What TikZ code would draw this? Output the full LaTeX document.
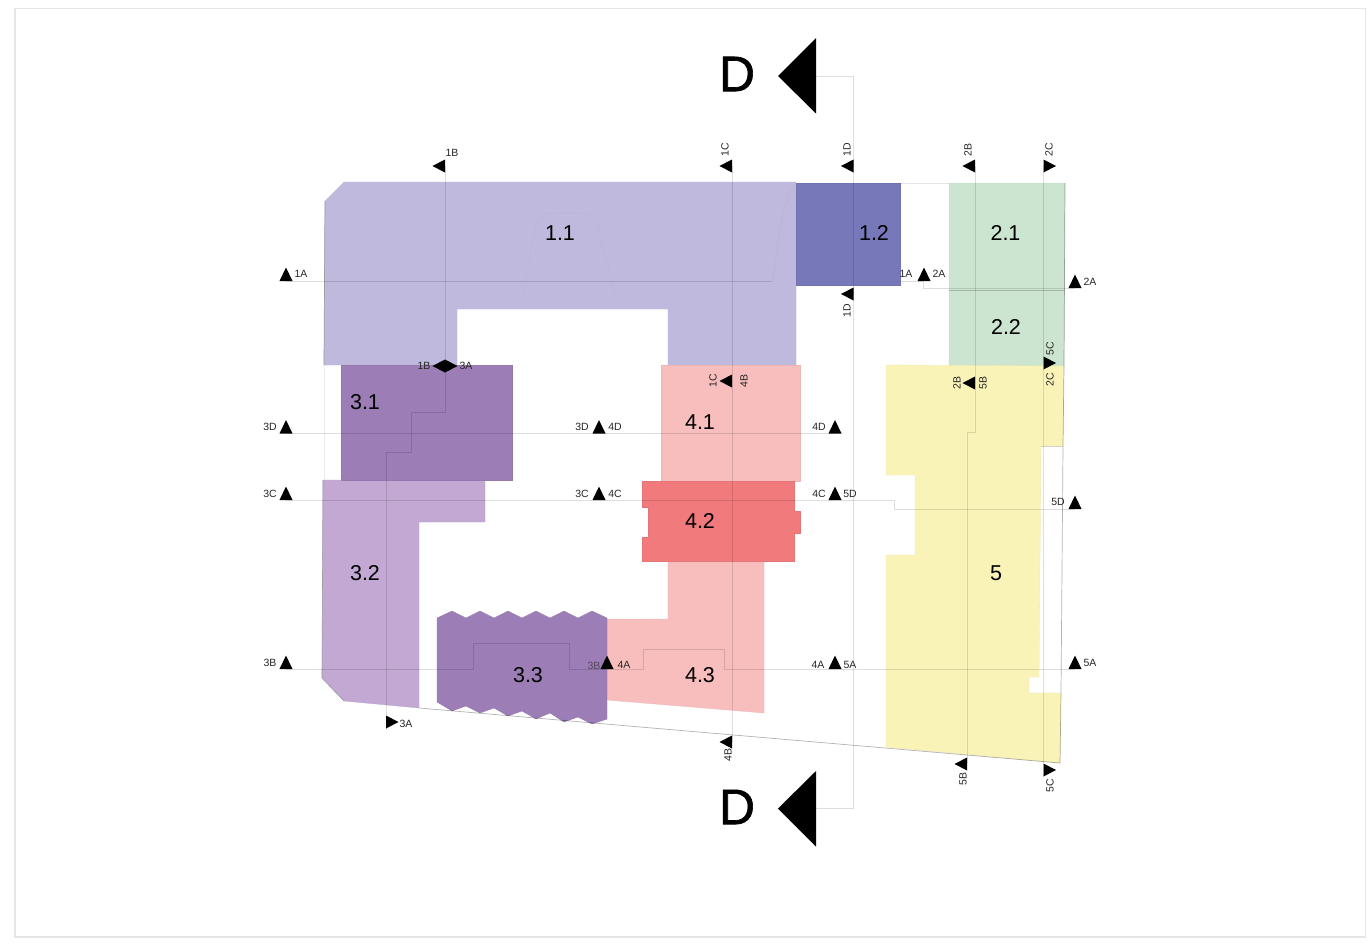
\documentclass[tikz,border=0pt]{standalone}
\usepackage{fontspec}
\setmainfont{Liberation Sans}
\newfontface\dface[FakeBold=1.2]{Liberation Sans}
\definecolor{cOneOne}{HTML}{BFBADD}
\definecolor{cOneTwo}{HTML}{7678B9}
\definecolor{cGreen}{HTML}{CCE5D0}
\definecolor{cDeep}{HTML}{9C7DB6}
\definecolor{cLight}{HTML}{C2A8D2}
\definecolor{cPink}{HTML}{F7BEBD}
\definecolor{cRed}{HTML}{F07A7C}
\definecolor{cYellow}{HTML}{FAF3B8}
\definecolor{cFrame}{HTML}{E6E6E6}
\newcommand{\TriUp}[2]{\fill[black] (#1-6.5,#2) -- (#1+6.5,#2) -- (#1,#2-13.5) -- cycle;}
\newcommand{\TriLeft}[2]{\fill[black] (#1,#2-6.5) -- (#1,#2+6.5) -- (#1-12.5,#2) -- cycle;}
\newcommand{\TriRight}[2]{\fill[black] (#1,#2-6.5) -- (#1,#2+6.5) -- (#1+12.5,#2) -- cycle;}
\tikzset{
  x=1pt,y=-1pt,
  zone/.style={line width=0.3pt,draw=#1!96!black,fill=#1},
  cutline/.style={draw=black,draw opacity=.13,line width=0.9pt},
  siteline/.style={draw=black,draw opacity=.3,line width=0.7pt},
  ghost/.style={draw=#1,line width=0.6pt},
  tag/.style={font=\fontsize{10.5}{12}\selectfont,inner sep=0pt,text=black!85},
  vtag/.style={tag,rotate=90},
  area/.style={font=\fontsize{21.5}{24}\selectfont,inner sep=0pt},
  bigtag/.style={font=\dface\fontsize{50}{54}\selectfont,inner sep=0pt}
}
\begin{document}
\begin{tikzpicture}
\useasboundingbox (0,0) rectangle (1368,945);
\fill[white] (0,0) rectangle (1368,945);
\draw[cFrame,line width=1.6pt] (15,8.5) rectangle (1365.5,937);

% zones
\path[zone=cOneOne] (325,201) -- (344,182) -- (796,182) -- (796,365) -- (668,365) -- (668,309) -- (457,309) -- (457,365) -- (324,365) -- cycle;
\draw[gray!75,line width=0.7pt] (324,365) -- (325,201);
\draw[gray!15,line width=0.6pt] (324,365) -- (324,480);
\path[zone=cGreen] (949,183) -- (1065,183) -- (1064,366) -- (949,366) -- cycle;
\path[zone=cOneTwo] (796,183) -- (900,183) -- (900,285) -- (796,285) -- cycle;
\path[zone=cLight] (323,480) -- (485,480) -- (485,522) -- (419,522) -- (419,708) -- (344,701) -- (322,678) -- cycle;
\draw[gray!75,line width=0.6pt] (323,480) -- (322,678) -- (344,701);
\path[zone=cDeep] (341,365) -- (512,365) -- (512,480) -- (341,480) -- cycle;
\path[zone=cPink] (661,365) -- (800,365) -- (800,481) -- (661,481) -- cycle;
\path[zone=cPink] (668,561) -- (764,561) -- (764,713) -- (607,700) -- (607,619) -- (668,619) -- cycle;
\path[zone=cRed] (642,481) -- (794,481) -- (794,511) -- (800,511) -- (800,533) -- (794,533) -- (794,561) -- (642,561) -- (642,537) -- (648,537) -- (648,507) -- (642,507) -- cycle;
\path[zone=cYellow] (886,365) -- (1064,366) -- (1063,446) -- (1041,446) -- (1039,677) -- (1029,677) -- (1029,693) -- (1061,693) -- (1060,763) -- (886,747) -- (886,555) -- (915,555) -- (915,475) -- (886,475) -- cycle;
\path[zone=cDeep] (437,618) -- (452,611) -- (466,618) -- (480,611) -- (494,618) -- (508,611) -- (522,618) -- (536,611) -- (550,618) -- (564,611) -- (578,618) -- (592,611) -- (607,618) -- (607,719) -- (592,724) -- (578,717) -- (564,722) -- (550,713) -- (536,719) -- (522,711) -- (508,716) -- (494,708) -- (480,713) -- (466,706) -- (452,711) -- (437,702) -- cycle;

% site outlines
\draw[siteline] (419,708) -- (1060,763) -- (1061,693) -- (1063,446) -- (1064,366);
\draw[draw=black,draw opacity=.15,line width=0.7pt] (1063,446) -- (1041,446);
\draw[draw=black,draw opacity=.1,line width=0.7pt] (900,183) -- (949,183);
\draw[draw=black,draw opacity=.2,line width=0.7pt] (949,290) -- (1065,290);
\draw[siteline] (1065,183) -- (1064,366);

% faint ground-plan traces
\draw[ghost=cOneOne!94!gray] (523,297) .. controls (528,270) and (532,240) .. (536,226) .. controls (540,214) and (546,213) .. (556,213) -- (578,213) .. controls (590,213) and (594,218) .. (598,228) .. controls (604,250) and (611,275) .. (615,297);
\draw[ghost=cOneOne!90!gray] (772,281) .. controls (778,262) and (778,205) .. (796,183);
\draw[ghost=cOneTwo!90!gray] (853,222) .. controls (862,216) and (885,216) .. (898,224);

% section lines
\coordinate (cutAw) at (286,281);
\coordinate (cutAe) at (772,281);
\draw[cutline] (cutAw) -- (cutAe);
\draw[cutline] (900,281) -- (923,281) -- (923,288) -- (1075,288);
\draw[cutline] (445,166) -- (445,412) -- (411,412) -- (411,452) -- (386,452) -- (386,729);
\draw[cutline] (732,166) -- (732,742);
\draw[cutline] (816,76) -- (853,76) -- (853,808) -- (816,808);
\draw[cutline] (975,166) -- (975,432) -- (967,432) -- (967,764);
\draw[cutline] (1043.5,166) -- (1043.5,777);
\draw[cutline] (286,433.5) -- (835,433.5);
\draw[cutline] (286,500) -- (894,500) -- (894,509) -- (1075,509);
\draw[cutline] (286,669) -- (473,669) -- (473,643) -- (569,643) -- (569,669) -- (643,669) -- (643,649.5) -- (724,649.5) -- (724,669) -- (1075,669);

% section markers
\TriUp{286}{281}
\TriUp{286}{433.5}
\TriUp{286}{500}
\TriUp{286}{669}
\TriUp{599}{433.5}
\TriUp{599}{500}
\TriUp{835}{433.5}
\TriUp{835}{500}
\TriUp{835}{669}
\TriUp{924}{281}
\TriUp{1075}{288}
\TriUp{1075}{509}
\TriUp{1075}{669}
\TriLeft{445}{166}
\TriLeft{732}{166}
\TriLeft{853.5}{166}
\TriLeft{853.5}{294}
\TriLeft{975}{166}
\TriLeft{732}{381}
\TriLeft{975}{383}
\TriLeft{732}{742}
\TriLeft{967}{764}
\TriLeft{445}{366}
\TriRight{445}{366}
\TriRight{1043.5}{166}
\TriRight{1043.5}{363}
\TriRight{1043.5}{770}
\TriRight{386}{722}
\fill[black] (816,38) -- (816,113.5) -- (778,76) -- cycle;
\fill[black] (816,771) -- (816,846.5) -- (778,808.5) -- cycle;

% big section letters
\node[bigtag] (dTop) at (737,74) {D};
\node[bigtag] (dBot) at (737,807) {D};

% area labels
\node[area] (a11) at (560,233) {1.1};
\node[area] (a12) at (874,233) {1.2};
\node[area] (a21) at (1005.5,233) {2.1};
\node[area] (a22) at (1006,327) {2.2};
\node[area] (a31) at (365,402) {3.1};
\node[area] (a32) at (365,573) {3.2};
\node[area] (a33) at (528,675) {3.3};
\node[area] (a41) at (700,422) {4.1};
\node[area] (a42) at (700,521) {4.2};
\node[area] (a43) at (700,675) {4.3};
\node[area] (a5) at (996,573) {5};

% section tags
\node[tag] (t1Aw) at (301,274) {1A};
\node[tag] (t1Bt) at (452,153) {1B};
\node[tag] (t1Bm) at (424,366) {1B};
\node[tag] (t3Am) at (466,366) {3A};
\node[tag] (t3Db) at (406,724) {3A};
\node[tag] (t3Dw) at (270,427) {3D};
\node[tag] (t3Cw) at (270,494) {3C};
\node[tag] (t3Bw) at (270,663) {3B};
\node[tag] (t3Dm) at (582,427) {3D};
\node[tag] (t4Dm) at (615,427) {4D};
\node[tag] (t3Cm) at (582,494) {3C};
\node[tag] (t4Cm) at (615,494) {4C};
\node[tag,opacity=.6] (t3Bm) at (594,666) {3B};
\TriUp{607}{669}
\node[tag] (t4Am) at (624,665) {4A};
\node[tag] (t4De) at (819,427) {4D};
\node[tag] (t4Ce) at (819,494) {4C};
\node[tag] (t5Dm) at (850,494) {5D};
\node[tag] (t4Ae) at (818,665) {4A};
\node[tag] (t5Am) at (850,665) {5A};
\node[tag] (t1Ae) at (906,274) {1A};
\node[tag] (t2Am) at (939,274) {2A};
\node[tag] (t2Ae) at (1090,282) {2A};
\node[tag] (t5De) at (1058,502) {5D};
\node[tag] (t5Ae) at (1090,663) {5A};
\node[vtag] (t1Ct) at (725,150) {1C};
\node[vtag] (t1Dt) at (847,150) {1D};
\node[vtag] (t2Bt) at (968,150) {2B};
\node[vtag] (t2Ct) at (1049,150) {2C};
\node[vtag] (t1Db) at (847,311) {1D};
\node[vtag] (t1Cm) at (713,381) {1C};
\node[vtag] (t4Bm) at (744,381) {4B};
\node[vtag] (t5Cm) at (1050,349) {5C};
\node[vtag] (t2Cm) at (1050,380) {2C};
\node[vtag] (t2Bm) at (957,383) {2B};
\node[vtag] (t5Bm) at (983,383) {5B};
\node[vtag] (t4Bb) at (728,755) {4B};
\node[vtag] (t5Bb) at (963,779) {5B};
\node[vtag] (t5Cb) at (1050,786) {5C};
\end{tikzpicture}
\end{document}
